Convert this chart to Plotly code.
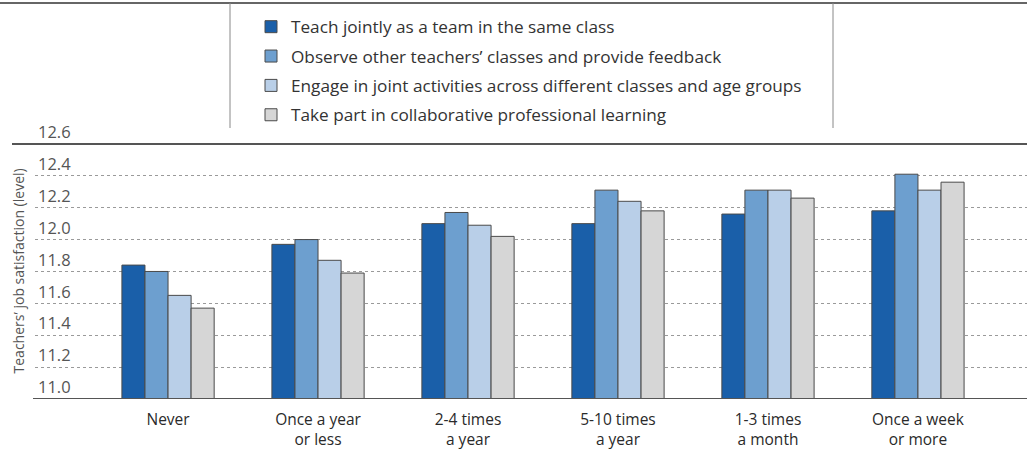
import plotly.graph_objects as go

categories = ["Never", "Once a year<br>or less", "2-4 times<br>a year", "5-10 times<br>a year",
              "1-3 times<br>a month", "Once a week<br>or more"]
series_names = [
    "Teach jointly as a team in the same class",
    "Observe other teachers’ classes and provide feedback",
    "Engage in joint activities across different classes and age groups",
    "Take part in collaborative professional learning",
]
teach_jointly = [11.84, 11.97, 12.10, 12.10, 12.16, 12.18]
observe_feedback = [11.80, 12.00, 12.17, 12.31, 12.31, 12.41]
joint_activities = [11.65, 11.87, 12.09, 12.24, 12.31, 12.31]
collab_learning = [11.57, 11.79, 12.02, 12.18, 12.26, 12.36]
y_ticks = [11.0, 11.2, 11.4, 11.6, 11.8, 12.0, 12.2, 12.4, 12.6]
y_title = "Teachers’ job satisfaction (level)"

values = [teach_jointly, observe_feedback, joint_activities, collab_learning]
colors = ["#1a5fa9", "#6d9fcf", "#b9cfe8", "#d6d6d6"]

W, H = 1027, 450
ml, mr, mt, mb = 35, 0, 120, 51
pw, ph = W - ml - mr, H - mt - mb
FONT = "'Open Sans', 'Noto Sans', sans-serif"

def px_x(x):
    return (x - ml) / pw

def px_y(y):
    return 1 + (mt - y) / ph

fig = go.Figure()
for i, (name, vals, col) in enumerate(zip(series_names, values, colors)):
    fig.add_trace(go.Bar(
        x=list(range(len(categories))), y=vals, name=name,
        marker=dict(color=col, line=dict(color="#4a4a4a", width=1)),
        legendgroup=f"g{i}",
    ))

fig.update_layout(
    width=W, height=H,
    margin=dict(l=ml, r=mr, t=mt, b=mb),
    paper_bgcolor="white", plot_bgcolor="white",
    barmode="group", bargap=0.385, bargroupgap=0.0,
    font=dict(family=FONT, color="#333"),
    showlegend=True,
    legend=dict(x=px_x(251), y=px_y(9), xanchor="left", yanchor="top",
                bgcolor="rgba(0,0,0,0)", traceorder="grouped", tracegroupgap=4,
                font=dict(size=17.2, color="#333", family=FONT), itemwidth=30),
    xaxis=dict(range=[-0.887, 5.727], tickmode="array", tickvals=list(range(len(categories))),
               ticktext=categories, showgrid=False, zeroline=False, showline=False,
               ticks="", tickfont=dict(size=15.5, color="#2a2a2a"), automargin=False,
               ticklabelstandoff=9),
    yaxis=dict(range=[11.0, 12.75], tickmode="array", tickvals=y_ticks,
               ticktext=[f"{v:.1f}" for v in y_ticks],
               ticklabelposition="inside top", tickfont=dict(size=16.5, color="#555"),
               showgrid=True, gridcolor="#9a9a9a", griddash="dot", gridwidth=1,
               zeroline=False, showline=False, ticks="", automargin=False),
    annotations=[
        dict(text=y_title, textangle=-90, xref="paper", yref="y",
             x=px_x(18), y=(y_ticks[0] + y_ticks[-1]) / 2, xanchor="center", yanchor="middle",
             showarrow=False, font=dict(size=14, color="#555", family=FONT)),
    ],
    shapes=[
        dict(type="line", xref="paper", yref="y", x0=px_x(12), x1=1, y0=12.6, y1=12.6,
             line=dict(color="#555", width=2)),
        dict(type="line", xref="paper", yref="y", x0=px_x(33), x1=1, y0=11.0, y1=11.0,
             line=dict(color="#555", width=2)),
        dict(type="line", xref="paper", yref="paper", x0=0 - ml / pw, x1=1, y0=px_y(3), y1=px_y(3),
             line=dict(color="#666", width=2)),
        dict(type="line", xref="paper", yref="paper", x0=px_x(230), x1=px_x(230), y0=px_y(3), y1=px_y(128),
             line=dict(color="#888", width=1)),
        dict(type="line", xref="paper", yref="paper", x0=px_x(833), x1=px_x(833), y0=px_y(3), y1=px_y(128),
             line=dict(color="#888", width=1)),
    ],
)

fig.write_html("out.html", config={"displayModeBar": False},
               post_script="document.body.style.margin='0';")
